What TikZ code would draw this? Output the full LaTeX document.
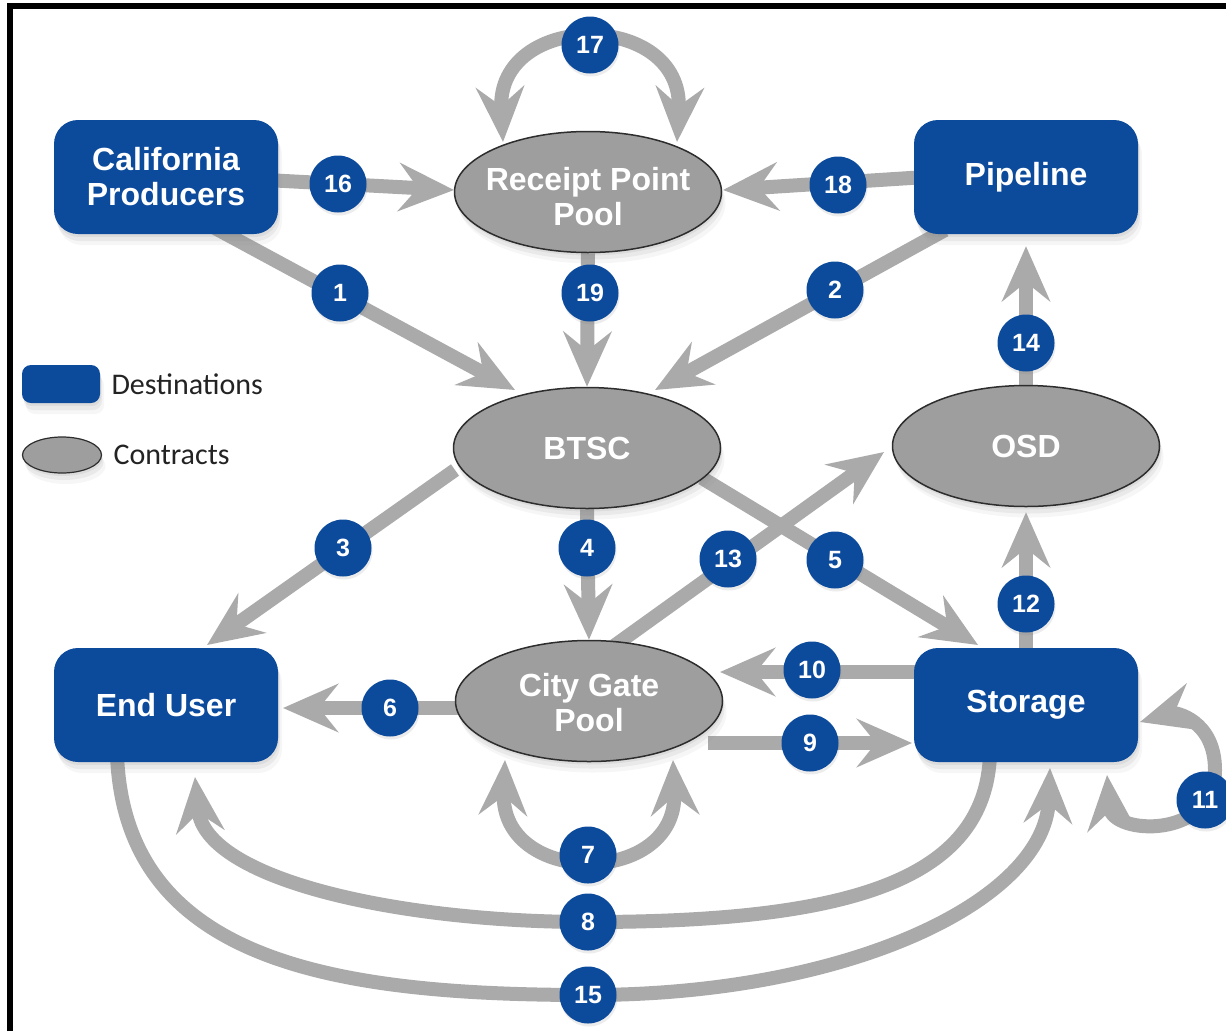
\documentclass[tikz,border=0pt]{standalone}
\usepackage{fontspec}
\setmainfont{Liberation Sans}
\newfontfamily\legendfont{Carlito}
\usetikzlibrary{arrows.meta,shapes.geometric,shadows,calc}
\definecolor{dblue}{RGB}{12,74,156}
\definecolor{agray}{RGB}{170,170,170}
\definecolor{egray}{RGB}{158,158,158}
\definecolor{eline}{RGB}{45,45,45}
\definecolor{legtext}{RGB}{35,35,35}
\pgfdeclarelayer{bgfill}
\pgfdeclarelayer{arrowlayer}
\pgfsetlayers{bgfill,arrowlayer,main}
\tikzset{
  softshadow/.style={
    drop shadow={shadow xshift=1pt,shadow yshift=-3pt,opacity=0.12},
    drop shadow={shadow xshift=2pt,shadow yshift=-7pt,opacity=0.10},
    drop shadow={shadow xshift=4pt,shadow yshift=-11pt,opacity=0.07}},
  dest/.style={rectangle, rounded corners=24pt, fill=dblue, minimum width=224pt,
    minimum height=114pt, text=white, align=center, softshadow,
    font=\fontsize{32}{35}\selectfont\bfseries},
  contract/.style={ellipse, fill=egray, draw=eline, line width=1.5pt,
    minimum width=267pt, minimum height=121pt, inner sep=0pt, softshadow},
  ctext/.style={text=white, align=center, font=\fontsize{32}{35}\selectfont\bfseries},
  badge/.style={circle, fill=dblue, minimum size=57pt, inner sep=0pt, text=white,
    font=\fontsize{25}{25}\selectfont\bfseries,
    drop shadow={shadow xshift=1pt,shadow yshift=-3pt,opacity=0.15}},
  conn/.style={draw=agray, line width=14pt, -{Stealth[length=55pt,width=48pt,inset=19pt]}},
  conntwo/.style={draw=agray, line width=14pt, {Stealth[length=55pt,width=48pt,inset=19pt]}-{Stealth[length=55pt,width=48pt,inset=19pt]}},
  legfont/.style={text=legtext, font=\legendfont\fontsize{30}{30}\selectfont, anchor=west}
}
\begin{document}
\begin{tikzpicture}[x=1pt,y=-1pt]
\useasboundingbox (0,0) rectangle (1226,1031);
\begin{pgfonlayer}{bgfill}
  \fill[white] (0,0) rectangle (1226,1031);
\end{pgfonlayer}

% destinations
\node[dest] (cp) at (166,177) {California\\Producers};
\node[dest] (pl) at (1026,177) {Pipeline};
\node[dest] (eu) at (166,705) {End User};
\node[dest] (st) at (1026,705) {Storage};

% contracts
\node[contract, label={[ctext, yshift=-5pt]center:Receipt Point\\Pool}] (rpp) at (588,192) {};
\node[contract, label={[ctext]center:BTSC}] (btsc) at (587,448) {};
\node[contract, label={[ctext]center:OSD}] (osd) at (1026,446) {};
\node[contract, label={[ctext, yshift=-2pt]center:City Gate\\Pool}] (cgp) at (589,701) {};

% legend
\node[rectangle, rounded corners=9pt, fill=dblue, minimum width=78pt, minimum height=38pt, softshadow] (legd) at (61,384) {};
\node[legfont] (legdt) at (108,384) {Destinations};
\node[ellipse, fill=egray, draw=eline, line width=1.2pt, minimum width=79pt, minimum height=36pt, inner sep=0pt, softshadow] (legc) at (62,455) {};
\node[legfont] (legct) at (110,455) {Contracts};

% badges
\node[badge] (b1) at (340,293) {1};
\node[badge] (b2) at (835,290) {2};
\node[badge] (b3) at (343,548) {3};
\node[badge] (b4) at (587,548) {4};
\node[badge] (b5) at (835,560) {5};
\node[badge] (b6) at (390,708) {6};
\node[badge] (b7) at (588,855) {7};
\node[badge] (b8) at (588,922) {8};
\node[badge] (b9) at (810,743) {9};
\node[badge] (b10) at (812,670) {10};
\node[badge] (b11) at (1205,800) {11};
\node[badge] (b12) at (1026,604) {12};
\node[badge] (b13) at (728,559) {13};
\node[badge] (b14) at (1026,343) {14};
\node[badge] (b15) at (588,995) {15};
\node[badge] (b16) at (338,184) {16};
\node[badge] (b17) at (590,45) {17};
\node[badge] (b18) at (838,185) {18};
\node[badge] (b19) at (590,293) {19};

\begin{pgfonlayer}{arrowlayer}
  % 16, 18, 17
  \draw[conn] ($(cp.center)+(100,3)$) -- ($(rpp.center)+(-134,-2)$);
  \draw[conn] ($(pl.center)+(-100,0)$) -- ($(rpp.center)+(135,-2)$);
  \draw[conntwo] ($(rpp.center)+(-85,-50)$) .. controls ($(rpp.center)+(-92,-182)$) and ($(rpp.center)+(96,-182)$) .. ($(rpp.center)+(89,-50)$);
  % 1, 19, 2
  \draw[conn] ($(cp.center)+(49,51)$) -- ($(btsc.center)+(-72,-58)$);
  \draw[conn] (rpp.south) -- (btsc.north);
  \draw[conn] ($(pl.center)+(-81,53)$) -- ($(btsc.center)+(68,-58)$);
  % 14, 12
  \draw[conn] (osd.north) -- ([yshift=-12pt]pl.south);
  \draw[conn] (st.north) -- ([yshift=-5pt]osd.south);
  % 3, 4, 5, 13
  \draw[conn] ($(btsc.center)+(-132,22)$) -- ($(eu.center)+(41,-60)$);
  \draw[conn] (btsc.south) -- (cgp.north);
  \draw[conn] ($(btsc.center)+(115,30)$) -- ($(st.center)+(-48,-60)$);
  \draw[conn] ($(cgp.center)+(25,-55)$) -- ($(osd.center)+(-142,6)$);
  % 10, 9, 6
  \draw[conn] ($(st.center)+(-100,-33)$) -- ($(cgp.center)+(131,-29)$);
  \draw[conn] ($(cgp.center)+(119,42)$) -- ($(st.center)+(-114,38)$);
  \draw[conn] ($(cgp.center)+(-100,7)$) -- ($(eu.center)+(117,3)$);
  % 7
  \draw[conntwo] ($(cgp.center)+(-84,59)$) .. controls ($(cgp.center)+(-89,186)$) and ($(cgp.center)+(89,186)$) .. ($(cgp.center)+(84,59)$);
  % 8
  \draw[conn] ($(st.center)+(-36,50)$) .. controls ($(st.center)+(-41,175)$) and ($(st.center)+(-176,217)$) .. (b8.center)
     .. controls ($(eu.center)+(234,217)$) and ($(eu.center)+(39,175)$) .. ($(eu.center)+(29,72)$);
  % 15
  \draw[conn] ($(eu.center)+(-49,50)$) .. controls ($(eu.center)+(-41,255)$) and ($(eu.center)+(164,290)$) .. (b15.center)
     .. controls ($(st.center)+(-176,290)$) and ($(st.center)+(19,195)$) .. ($(st.center)+(24,63)$);
  % 11
  \draw[conntwo] ($(st.center)+(81,70)$) .. controls ($(st.center)+(86,130)$) and ($(st.center)+(189,135)$) .. ($(st.center)+(189,65)$)
     .. controls ($(st.center)+(189,15)$) and ($(st.center)+(149,7)$) .. ($(st.center)+(114,17)$);
\end{pgfonlayer}

% frame (top and left)
\draw[line width=6pt, line join=miter] (10,1031) -- (10,6) -- (1226,6);
\end{tikzpicture}
\end{document}
